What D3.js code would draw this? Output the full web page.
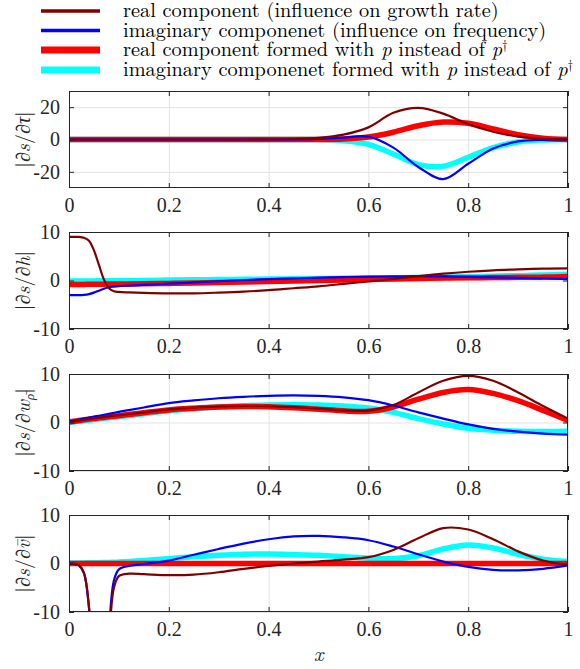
<!DOCTYPE html>
<html>
<head>
<meta charset="utf-8">
<script src="https://cdn.jsdelivr.net/npm/d3@7"></script>
<style>
  body { margin: 0; background: #fff; }
</style>
</head>
<body>
<div id="container1"></div>
<script>
// sample positions along x (denser near the wall where panel 4 spikes)
var xs = [0, 0.01, 0.02, 0.03, 0.04, 0.05, 0.06, 0.07, 0.08, 0.09, 0.1, 0.12, 0.15, 0.2, 0.25, 0.3,
          0.35, 0.4, 0.45, 0.5, 0.55, 0.6, 0.65, 0.7, 0.75, 0.8, 0.85, 0.9, 0.95, 1];

// panel 1 : |ds/dtau|
var tauReal  = [0,0,0,0,0,0,0,0,0,0,0,0,0,0,0,0,0,0.05,0.3,1,3,7.5,16.5,19.6,16,9.5,4.8,1.8,0.5,0];
var tauImag  = [0,0,0,0,0,0,0,0,0,0,0,0,0,0,0,0,0,0,0.1,0.4,1.2,1.8,-5,-17,-24.5,-15,-5.5,-1.2,-0.2,0];
var tauRealP = [0,0,0,0,0,0,0,0,0,0,0,0,0,0,0,0,0,0,0,0,0.3,1.5,4.5,8.5,10.8,10,6.5,3,0.8,0];
var tauImagP = [0,0,0,0,0,0,0,0,0,0,0,0,0,0,0,0,0,0,0,0,-0.7,-3,-9,-15.5,-16.5,-11,-5,-1.5,-0.3,0];

// panel 2 : |ds/dh|
var hReal  = [9,9,9,8.8,8.2,6.2,3.2,0.2,-1.6,-2.2,-2.35,-2.45,-2.55,-2.65,-2.65,-2.5,-2.3,-2,-1.6,-1.2,-0.7,-0.2,0.35,0.9,1.4,1.8,2.1,2.3,2.45,2.5];
var hImag  = [-3,-3,-3,-2.95,-2.8,-2.5,-2.1,-1.7,-1.4,-1.25,-1.15,-1.05,-0.9,-0.65,-0.4,-0.15,0.1,0.3,0.45,0.6,0.7,0.8,0.85,0.9,0.85,0.75,0.65,0.55,0.45,0.3];
var hRealP = [-0.8,-0.8,-0.8,-0.8,-0.78,-0.77,-0.76,-0.75,-0.74,-0.73,-0.72,-0.7,-0.67,-0.6,-0.5,-0.4,-0.3,-0.2,-0.1,0,0.1,0.2,0.3,0.4,0.5,0.55,0.6,0.65,0.7,0.8];
var hImagP = [-0.1,-0.1,-0.1,-0.1,-0.09,-0.08,-0.07,-0.07,-0.06,-0.06,-0.05,-0.03,0,0.1,0.15,0.2,0.25,0.3,0.35,0.4,0.45,0.5,0.55,0.6,0.7,0.8,0.9,1,1.15,1.3];

// panel 3 : |ds/dw_rho|
var wReal  = [0.1,0.25,0.4,0.55,0.7,0.85,1,1.1,1.25,1.4,1.5,1.75,2.1,2.7,3.05,3.3,3.4,3.35,3.15,2.85,2.5,2.45,3.6,6.2,8.6,9.6,8.6,6.2,3.4,0.8];
var wImag  = [0.2,0.4,0.6,0.8,1,1.2,1.4,1.6,1.8,2,2.2,2.55,3.1,4,4.55,5,5.3,5.5,5.6,5.5,5.2,4.6,3.5,2.1,0.8,-0.4,-1.3,-1.9,-2.3,-2.5];
var wRealP = [0.1,0.25,0.4,0.55,0.7,0.8,0.95,1.05,1.2,1.3,1.4,1.65,2,2.6,2.95,3.2,3.3,3.25,3.05,2.75,2.4,2.3,3.2,4.8,6.2,6.8,6,4.5,2.5,0.4];
var wImagP = [0,0.12,0.24,0.36,0.48,0.6,0.72,0.84,0.96,1.08,1.2,1.45,1.8,2.4,2.85,3.2,3.45,3.6,3.65,3.6,3.4,3,2.1,0.8,-0.3,-1.2,-1.6,-1.8,-1.85,-1.8];

// panel 4 : |ds/dv|
var vReal  = [0,-0.05,-0.4,-2,-9,-25,-35,-30,-16,-5,-2.6,-2.1,-2.2,-2.4,-2.3,-1.8,-1.1,-0.5,0,0.4,0.8,1.3,2.8,5.2,7.3,7,5,2.5,0.6,-0.3];
var vImag  = [0,-0.05,-0.4,-2,-9,-25,-35,-30,-14,-3.5,-1.2,-0.5,-0.1,0.6,1.8,3,4.1,5,5.6,5.7,5.4,4.8,3.5,1.9,0.4,-0.7,-1.3,-1.4,-1.1,-0.4];
var vRealP = [0,0,0,0,0,0,0,0,0,0,0,0,0,0,0,0,0,0,0,0,0,0,0,0,0,0,0,0,0,0];
var vImagP = [0.1,0.1,0.1,0.12,0.14,0.16,0.18,0.2,0.22,0.25,0.3,0.4,0.6,1,1.4,1.7,1.9,1.95,1.85,1.7,1.4,1.1,1,1.6,3,3.8,3.2,1.9,0.9,0.4];

var xTicks = [0, 0.2, 0.4, 0.6, 0.8, 1];
var yTicksTau = [-20, 0, 20];
var yTicksOther = [-10, 0, 10];

var legendLabels = ["real component (influence on growth rate)",
                    "imaginary componenet (influence on frequency)",
                    "real component formed with ", "imaginary componenet formed with "];

var width = 580, height = 669,
    left = 69, right = 568, panelH = 97;
var panelTop = [91, 232, 374, 515];

var tickFont = "'Liberation Serif', 'Latin Modern Roman', serif",
    texFont = "'Latin Modern Roman', 'Liberation Serif', serif";

// style per series: drawn cyan, red, blue, darkred (thin lines end up on top)
var styles = {
  real:  { color: "#800000", w: 2.2 },
  imag:  { color: "#0000ff", w: 2.2 },
  realP: { color: "#ff0000", w: 5.5 },
  imagP: { color: "#00ffff", w: 5.5 }
};

var panels = [
  { dom: [-30, 30], ticks: yTicksTau,   s: { real: tauReal, imag: tauImag, realP: tauRealP, imagP: tauImagP } },
  { dom: [-10, 10], ticks: yTicksOther, s: { real: hReal, imag: hImag, realP: hRealP, imagP: hImagP } },
  { dom: [-10, 10], ticks: yTicksOther, s: { real: wReal, imag: wImag, realP: wRealP, imagP: wImagP } },
  { dom: [-10, 10], ticks: yTicksOther, s: { real: vReal, imag: vImag, realP: vRealP, imagP: vImagP } }
];

var xScale = d3.scaleLinear().domain([0, 1]).range([left, right]);

var svg = d3.select("#container1")
  .append("svg")
  .attr("width", width)
  .attr("height", height);

var fmtX = function(d){ return d === 0 ? "0" : d === 1 ? "1" : d3.format(".1f")(d); };
var fmtY = function(d){ return d < 0 ? "-" + Math.abs(d) : String(d); };

panels.forEach(function(p, i){
  var top = panelTop[i], bottom = top + panelH;
  var yScale = d3.scaleLinear().domain(p.dom).range([bottom, top]);

  var g = svg.append("g");

  // grid
  g.append("g").attr("transform", "translate(0," + bottom + ")")
    .call(d3.axisBottom(xScale).tickValues(xTicks).tickSize(-panelH).tickFormat(""))
    .call(function(a){ a.select(".domain").remove(); a.selectAll("line").attr("stroke", "#e3e3e3"); });
  g.append("g").attr("transform", "translate(" + left + ",0)")
    .call(d3.axisLeft(yScale).tickValues(p.ticks).tickSize(-(right - left)).tickFormat(""))
    .call(function(a){ a.select(".domain").remove(); a.selectAll("line").attr("stroke", "#e3e3e3"); });

  // clip
  svg.append("clipPath").attr("id", "clip" + i)
    .append("rect").attr("x", left).attr("y", top).attr("width", right - left).attr("height", panelH);

  var line = d3.line()
    .x(function(d, k){ return xScale(xs[k]); })
    .y(function(d){ return yScale(d); })
    .curve(d3.curveCatmullRom.alpha(0.5));

  g.append("g").attr("clip-path", "url(#clip" + i + ")")
    .selectAll("path").data(["imagP", "realP", "imag", "real"])
    .enter().append("path")
      .attr("d", function(k){ return line(p.s[k]); })
      .attr("fill", "none")
      .attr("stroke", function(k){ return styles[k].color; })
      .attr("stroke-width", function(k){ return styles[k].w; })
      .attr("stroke-linejoin", "round");

  // axes with inward ticks (bottom/left labelled, top/right bare)
  var xa = g.append("g").attr("transform", "translate(0," + bottom + ")")
    .call(d3.axisBottom(xScale).tickValues(xTicks).tickSize(-5).tickPadding(10).tickFormat(fmtX));
  var xt = g.append("g").attr("transform", "translate(0," + top + ")")
    .call(d3.axisTop(xScale).tickValues(xTicks).tickSize(-5).tickFormat(""));
  var ya = g.append("g").attr("transform", "translate(" + left + ",0)")
    .call(d3.axisLeft(yScale).tickValues(p.ticks).tickSize(-5).tickPadding(9).tickFormat(fmtY));
  var yr = g.append("g").attr("transform", "translate(" + right + ",0)")
    .call(d3.axisRight(yScale).tickValues(p.ticks).tickSize(-5).tickFormat(""));

  [xa, xt, ya, yr].forEach(function(a){
    a.select(".domain").remove();
    a.selectAll(".tick line").attr("stroke", "#262626");
  });
  [xa, ya].forEach(function(a){
    a.selectAll("text").attr("font-family", tickFont).attr("font-size", 20).attr("fill", "#262626");
  });

  g.append("rect")
    .attr("x", left + 0.5).attr("y", top + 0.5)
    .attr("width", right - left - 1).attr("height", panelH - 1)
    .attr("fill", "none").attr("stroke", "#262626").attr("stroke-width", 1);
});

// y labels (rotated)
var ylab = [
  [["|\u2202", ""], ["s", "i"], ["/\u2202", ""], ["\u03c4", "i"], ["|", ""]],
  [["|\u2202", ""], ["s", "i"], ["/\u2202", ""], ["h", "i"], ["|", ""]],
  [["|\u2202", ""], ["s", "i"], ["/\u2202", ""], ["w", "i"], ["\u03c1\u0304", "sub"], ["|", ""]],
  [["|\u2202", ""], ["s", "i"], ["/\u2202", ""], ["v\u0304", "i"], ["|", ""]]
];
ylab.forEach(function(parts, i){
  var cy = panelTop[i] + panelH / 2;
  var t = svg.append("text")
    .attr("transform", "translate(30," + cy + ") rotate(-90)")
    .attr("text-anchor", "middle")
    .attr("font-family", texFont)
    .attr("fill", "#262626")
    .attr("font-size", 20);
  parts.forEach(function(pp){
    var ts = t.append("tspan").text(pp[0]);
    if (pp[1] === "i") ts.attr("font-style", "italic");
    if (pp[1] === "sub") ts.attr("font-style", "italic").attr("font-size", 13).attr("baseline-shift", "-4");
  });
});

// x label
svg.append("text")
  .attr("x", (left + right) / 2).attr("y", 661)
  .attr("text-anchor", "middle")
  .attr("font-family", texFont)
  .attr("fill", "#262626")
  .attr("font-size", 21).attr("font-style", "italic")
  .text("x");

// legend
var legY = [11, 30.5, 50, 70];
var legKeys = ["real", "imag", "realP", "imagP"];
var legend = svg.append("g");
var legTexts = [];
legKeys.forEach(function(k, i){
  legend.append("line")
    .attr("x1", 41).attr("x2", 100).attr("y1", legY[i]).attr("y2", legY[i])
    .attr("stroke", styles[k].color)
    .attr("stroke-width", styles[k].w > 3 ? 7 : 3.5);
  var t = legend.append("text")
    .attr("x", 123).attr("y", legY[i] + 6)
    .attr("font-family", texFont)
    .attr("font-size", 20).attr("fill", "#000");
  t.append("tspan").text(legendLabels[i]);
  if (i >= 2) {
    t.append("tspan").attr("font-style", "italic").text("p");
    t.append("tspan").text(" instead of ");
    t.append("tspan").attr("font-style", "italic").text("p");
    t.append("tspan").attr("font-size", 13).attr("baseline-shift", "7").text("\u2020");
  }
  legTexts.push(t);
});
// size legend text so the first entry ends where it does in the figure (~x=500)
var w0 = legTexts[0].node().getComputedTextLength();
var fs = 20 * 376 / w0;
legTexts.forEach(function(t){ t.attr("font-size", fs); });
</script>
</body>
</html>
